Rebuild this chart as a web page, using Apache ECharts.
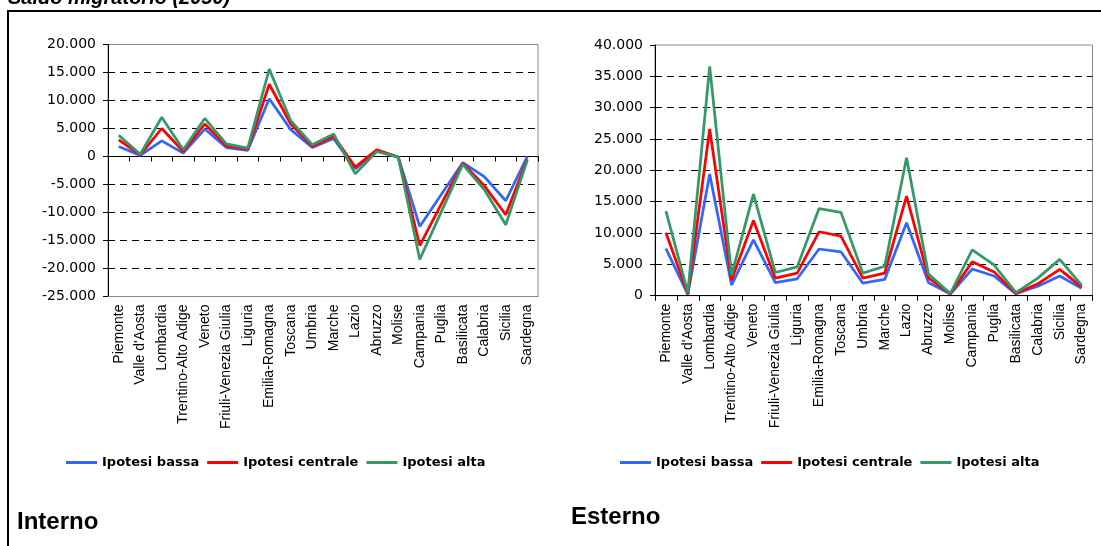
<!DOCTYPE html>
<html>
<head>
<meta charset="utf-8">
<script src="https://cdn.jsdelivr.net/npm/echarts@6/dist/echarts.min.js"></script>
<style>
html,body{margin:0;padding:0;background:#fff;}
#c{width:1101px;height:546px;}
</style>
</head>
<body>
<div id="c"></div>
<script>
const pageTitle = 'Saldo migratorio (2050)';
const panelTitles = ['Interno', 'Esterno'];
const seriesNames = ['Ipotesi bassa', 'Ipotesi centrale', 'Ipotesi alta'];
const regions = ['Piemonte', "Valle d'Aosta", 'Lombardia', 'Trentino-Alto Adige', 'Veneto',
  'Friuli-Venezia Giulia', 'Liguria', 'Emilia-Romagna', 'Toscana', 'Umbria', 'Marche', 'Lazio',
  'Abruzzo', 'Molise', 'Campania', 'Puglia', 'Basilicata', 'Calabria', 'Sicilia', 'Sardegna'];

// Interno
const internoBassa    = [1800, 200, 2800, 600, 4900, 1600, 1100, 10300, 4800, 1600, 3200, -2200, 1000, -100, -12500, -6800, -1100, -3600, -7900, 0];
const internoCentrale = [2950, 300, 5000, 900, 5800, 1900, 1300, 12900, 5800, 1800, 3600, -1900, 1200, -100, -15900, -8500, -1200, -5200, -10400, -500];
const internoAlta     = [3800, 400, 7000, 1200, 6800, 2250, 1500, 15600, 6400, 2100, 4000, -3100, 900, -100, -18400, -9900, -1400, -5900, -12200, -700];

// Esterno
const esternoBassa    = [7500, 200, 19400, 1700, 8900, 2100, 2700, 7450, 7000, 2000, 2600, 11650, 2100, 250, 4250, 3150, 300, 1500, 3150, 1200];
const esternoCentrale = [10050, 300, 26600, 2500, 12000, 2800, 3600, 10200, 9500, 2800, 3600, 15900, 2850, 300, 5400, 3800, 350, 1900, 4200, 1400];
const esternoAlta     = [13500, 500, 36600, 3300, 16200, 3700, 4600, 13900, 13300, 3600, 4700, 22000, 3450, 350, 7300, 4900, 500, 2800, 5800, 1700];

// axis ranges (tick labels: -25.000 ... 20.000 and 0 ... 40.000)
const internoTicks = [-25000, -20000, -15000, -10000, -5000, 0, 5000, 10000, 15000, 20000];
const esternoTicks = [0, 5000, 10000, 15000, 20000, 25000, 30000, 35000, 40000];

const colors = ['#3366FF', '#FF0000', '#339966'];

function fmt(v) {
  const s = Math.abs(v).toString().replace(/\B(?=(\d{3})+(?!\d))/g, '.');
  return (v < 0 ? '-' : '') + s;
}

const hFont = 'DejaVu Sans';
const vFont = 'Liberation Sans';

function yAxisFor(gridIndex, ticks) {
  return {
    type: 'value', gridIndex: gridIndex,
    min: ticks[0], max: ticks[ticks.length - 1], interval: ticks[1] - ticks[0],
    axisLine: { show: true, lineStyle: { color: '#000', width: 1 } },
    axisTick: { show: true, length: 5, lineStyle: { color: '#000' } },
    axisLabel: { color: '#000', fontFamily: hFont, fontSize: 14, margin: 12, formatter: fmt },
    splitLine: { show: true, showMinLine: false, showMaxLine: false,
      lineStyle: { color: '#000', type: [7, 5], width: 1 } }
  };
}

function catLabel() {
  return { show: true, rotate: 90, interval: 0, color: '#000', fontFamily: vFont, fontSize: 14, margin: 8 };
}

const option = {
  animation: false,
  backgroundColor: '#fff',
  color: colors,
  grid: [
    { left: 108, top: 44.5, width: 430, height: 252, show: true, borderColor: '#888', borderWidth: 1, backgroundColor: 'transparent' },
    { left: 655, top: 45, width: 437.5, height: 250.7, show: true, borderColor: '#888', borderWidth: 1, backgroundColor: 'transparent' }
  ],
  xAxis: [
    { type: 'category', gridIndex: 0, data: regions, position: 'bottom', boundaryGap: true,
      axisLine: { show: true, onZero: false, lineStyle: { color: '#888' } },
      axisTick: { show: false }, axisLabel: catLabel(), splitLine: { show: false } },
    { type: 'category', gridIndex: 0, data: regions, position: 'top', boundaryGap: true,
      axisLine: { show: true, onZero: true, lineStyle: { color: '#000', width: 1 } },
      axisTick: { show: true, inside: true, length: 5, interval: 0, lineStyle: { color: '#000' } },
      axisLabel: { show: false }, splitLine: { show: false } },
    { type: 'category', gridIndex: 1, data: regions, position: 'bottom', boundaryGap: true,
      axisLine: { show: true, onZero: false, lineStyle: { color: '#000', width: 1 } },
      axisTick: { show: true, length: 5, interval: 0, lineStyle: { color: '#000' } },
      axisLabel: catLabel(), splitLine: { show: false } }
  ],
  yAxis: [ yAxisFor(0, internoTicks), yAxisFor(1, esternoTicks) ],
  legend: [
    { left: 61, top: 451, itemWidth: 31, itemHeight: 3, itemGap: 8, icon: 'rect',
      data: seriesNames, textStyle: { color: '#000', fontFamily: hFont, fontWeight: 'bold', fontSize: 13 } },
    { left: 615, top: 451, itemWidth: 31, itemHeight: 3, itemGap: 8, icon: 'rect',
      data: seriesNames, textStyle: { color: '#000', fontFamily: hFont, fontWeight: 'bold', fontSize: 13 } }
  ],
  graphic: [
    { type: 'line', shape: { x1: 8, y1: 11, x2: 1101, y2: 11 }, style: { stroke: '#000', lineWidth: 2 }, z: 10 },
    { type: 'line', shape: { x1: 8, y1: 10, x2: 8, y2: 546 }, style: { stroke: '#000', lineWidth: 2 }, z: 10 },
    { type: 'text', left: 8, top: -12, style: { text: pageTitle, fill: '#000', font: 'italic bold 20px "Liberation Sans"' } },
    { type: 'text', x: 17, y: 522, style: { text: panelTitles[0], fill: '#000', font: 'bold 24px "Liberation Sans"', verticalAlign: 'middle' } },
    { type: 'text', x: 571, y: 517, style: { text: panelTitles[1], fill: '#000', font: 'bold 24px "Liberation Sans"', verticalAlign: 'middle' } }
  ],
  series: [
    { name: seriesNames[0], type: 'line', xAxisIndex: 0, yAxisIndex: 0, data: internoBassa },
    { name: seriesNames[1], type: 'line', xAxisIndex: 0, yAxisIndex: 0, data: internoCentrale },
    { name: seriesNames[2], type: 'line', xAxisIndex: 0, yAxisIndex: 0, data: internoAlta },
    { name: seriesNames[0], type: 'line', xAxisIndex: 2, yAxisIndex: 1, data: esternoBassa },
    { name: seriesNames[1], type: 'line', xAxisIndex: 2, yAxisIndex: 1, data: esternoCentrale },
    { name: seriesNames[2], type: 'line', xAxisIndex: 2, yAxisIndex: 1, data: esternoAlta }
  ].map(s => Object.assign(s, { symbol: 'none', lineStyle: { width: 2.75 }, z: 3 }))
};

const chart = echarts.init(document.getElementById('c'), null, { renderer: 'canvas' });
chart.setOption(option);
</script>
</body>
</html>
